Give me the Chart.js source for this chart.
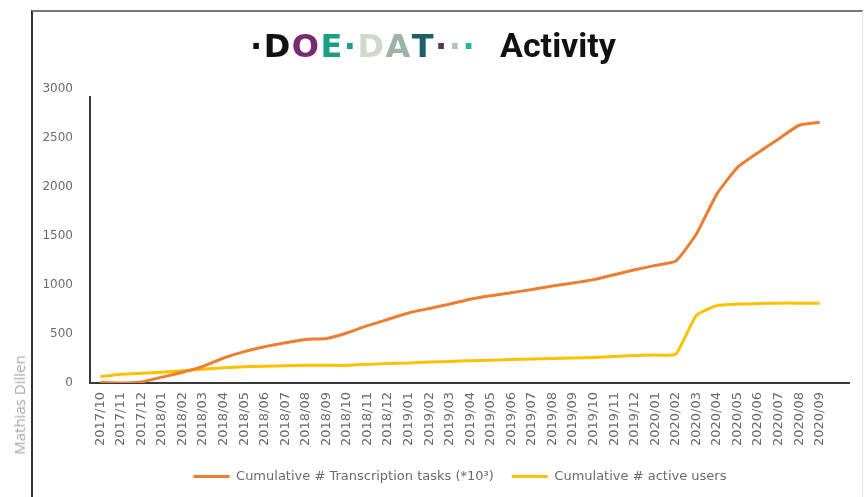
<!DOCTYPE html>
<html>
<head>
<meta charset="utf-8">
<script src="https://cdn.jsdelivr.net/npm/chart.js@4"></script>
<style>
  body { margin: 0; background: #fff; width: 866px; height: 497px; overflow: hidden; position: relative; font-family: "DejaVu Sans", sans-serif; }
  #frame { position: absolute; left: 31px; top: 10px; width: 829px; height: 520px; border-left: 2px solid #333; border-top: 2px solid #777; border-right: 1px solid #e6e6e6; }
  #wrap { position: absolute; left: 0; top: 0; width: 866px; height: 497px; }
  #title { position: absolute; left: 250px; top: 26px; white-space: nowrap; line-height: 38px; height: 38px; }
  #title span { display: inline-block; vertical-align: baseline; }
  .logo { font-family: "DejaVu Sans", sans-serif; font-weight: bold; font-size: 32px; letter-spacing: 1.5px; }
  .act { font-family: Roboto, "Liberation Sans", sans-serif; font-weight: bold; font-size: 34px; color: #111; margin-left: 24px; }
  #credit { position: absolute; left: 19px; top: 405px; transform: translate(-50%, -50%) rotate(-90deg); color: #a8a8a8; font-family: "Open Sans", sans-serif; font-size: 15px; white-space: nowrap; }
</style>
</head>
<body>
<div id="frame"></div>
<div id="wrap"><canvas id="activityChart" width="866" height="497"></canvas></div>
<div id="title"><span class="logo" style="color:#111">·D</span><span class="logo" style="color:#7a2a6e">O</span><span class="logo" style="color:#1a9e84">E·</span><span class="logo" style="color:#cfdacb">D</span><span class="logo" style="color:#9db3a6">A</span><span class="logo" style="color:#1d5f66">T</span><span class="logo" style="color:#5a3550">·</span><span class="logo" style="color:#b5c2ba">·</span><span class="logo" style="color:#22b59a">·</span><span class="act">Activity</span></div>
<div id="credit">Mathias Dillen</div>
<script>
// maanden op de x-as
const months = [
  '2017/10', '2017/11', '2017/12',
  '2018/01', '2018/02', '2018/03', '2018/04', '2018/05', '2018/06',
  '2018/07', '2018/08', '2018/09', '2018/10', '2018/11', '2018/12',
  '2019/01', '2019/02', '2019/03', '2019/04', '2019/05', '2019/06',
  '2019/07', '2019/08', '2019/09', '2019/10', '2019/11', '2019/12',
  '2020/01', '2020/02', '2020/03', '2020/04', '2020/05', '2020/06',
  '2020/07', '2020/08', '2020/09'
];

const tasks = [5, 0, 10, 60, 110, 170, 255, 320, 370, 410, 445, 455,
  510, 585, 650, 715, 760, 805, 855, 890, 920, 955, 990, 1020,
  1055, 1105, 1155, 1200, 1245, 1520, 1930, 2200, 2350, 2490, 2630, 2660];
const users = [65, 90, 100, 110, 125, 140, 155, 165, 170, 175, 180, 180,
  180, 190, 200, 205, 215, 220, 228, 232, 240, 245, 250, 255,
  260, 270, 280, 285, 295, 690, 790, 805, 810, 815, 815, 815];

const yTicks = [0, 500, 1000, 1500, 2000, 2500, 3000];

// assen zoals in Excel, x-as loopt iets verder door
const axisLines = {
  id: 'axisLines',
  beforeDatasetsDraw(chart) {
    const { ctx, chartArea: a } = chart;
    ctx.save();
    ctx.strokeStyle = '#3a3a3a';
    ctx.lineWidth = 2;
    ctx.beginPath();
    ctx.moveTo(a.left, a.top + 7);
    ctx.lineTo(a.left, a.bottom);
    ctx.lineTo(850, a.bottom);
    ctx.stroke();
    ctx.restore();
  }
};

const ctx = document.getElementById('activityChart').getContext('2d');
new Chart(ctx, {
  type: 'line',
  data: {
    labels: months,
    datasets: [{
      label: 'Cumulative # Transcription tasks (*10³)',
      data: tasks,
      borderColor: '#ed7d31',
      borderWidth: 3,
      pointRadius: 0,
      tension: 0.15
    }, {
      label: 'Cumulative # active users',
      data: users,
      borderColor: '#ffc000',
      borderWidth: 3,
      pointRadius: 0,
      tension: 0.15
    }]
  },
  options: {
    responsive: false,
    animation: false,
    layout: { padding: { left: 30, right: 36, top: 89, bottom: 4 } },
    plugins: {
      tooltip: { enabled: false },
      legend: {
        position: 'bottom',
        fullSize: false,
        labels: {
          usePointStyle: true,
          pointStyle: 'line',
          pointStyleWidth: 36,
          color: '#6a6a6a',
          font: { size: 13, family: 'DejaVu Sans' },
          padding: 18
        }
      }
    },
    scales: {
      x: {
        offset: true,
        grid: { display: false, drawTicks: false },
        border: { display: false },
        ticks: { minRotation: 90, maxRotation: 90, autoSkip: false, color: '#6a6a6a', font: { size: 13, family: 'DejaVu Sans' }, padding: 9 },
        afterFit(s) { s.height = 69; }
      },
      y: {
        min: 0,
        max: 3000,
        afterBuildTicks(s) { s.ticks = yTicks.map(v => ({ value: v })); },
        grid: { display: false, drawTicks: false },
        border: { display: false },
        ticks: { color: '#6a6a6a', font: { size: 12, family: 'DejaVu Sans' }, padding: 17, callback: v => String(v) },
        afterFit(s) { s.width = 60; }
      }
    }
  },
  plugins: [axisLines]
});
</script>
</body>
</html>
